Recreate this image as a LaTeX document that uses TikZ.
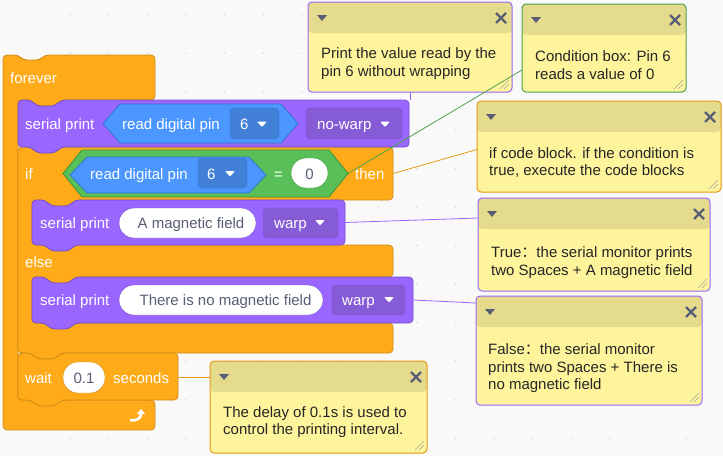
\documentclass[tikz,border=0pt]{standalone}
\usepackage{fontspec}
\setmainfont{Liberation Sans}
\newfontfamily\cjkfont{Noto Sans CJK SC}
\usetikzlibrary{arrows.meta}

\definecolor{bg}{HTML}{F9F9F9}
\definecolor{ctrl}{HTML}{FFAB19}
\definecolor{ctrlline}{HTML}{CF8B17}
\definecolor{looks}{HTML}{9966FF}
\definecolor{looksline}{HTML}{774DCB}
\definecolor{looksfield}{HTML}{855CD6}
\definecolor{sens}{HTML}{4C97FF}
\definecolor{sensline}{HTML}{3373CC}
\definecolor{sensfield}{HTML}{4280D7}
\definecolor{oper}{HTML}{59C059}
\definecolor{operline}{HTML}{389438}
\definecolor{cbody}{HTML}{FEF49C}
\definecolor{chead}{HTML}{E4DB8C}
\definecolor{cicon}{HTML}{575E75}

% stack block with top notch and bottom tab
\newcommand{\stackblk}[5]{%
  \draw[#1, rounded corners=4] (#2,#3) -- (#2+13,#3) -- (#2+19,#3+6) -- (#2+37,#3+6) -- (#2+43,#3)
    -- (#4,#3) -- (#4,#5) -- (#2+43,#5) -- (#2+37,#5+6) -- (#2+19,#5+6) -- (#2+13,#5) -- (#2,#5) -- cycle;}
% hexagon reporter
\newcommand{\hexblk}[6]{%
  \draw[#1] (#2,#3/2+#5/2) -- (#2+#6,#3) -- (#4-#6,#3) -- (#4,#3/2+#5/2) -- (#4-#6,#5) -- (#2+#6,#5) -- cycle;}
% dropdown arrow
\newcommand{\ddtri}[2]{\fill[white, rounded corners=1] (#1,#2) -- ++(10,0) -- ++(-5,5.5) -- cycle;}

\begin{document}
\begin{tikzpicture}[x=1pt, y=-1pt,
  blk/.style={font=\fontsize{15}{18}\selectfont, text=white, inner sep=0, anchor=base west},
  oval/.style={font=\fontsize{15}{18}\selectfont, text=cicon, inner sep=0, anchor=base},
  cmt/.style={rectangle, rounded corners=4, line width=1pt, fill=cbody, inner sep=0, outer sep=0,
    path picture={\fill[chead] (path picture bounding box.north west) rectangle ([yshift=-31pt]path picture bounding box.north east);}},
  ctext/.style={font=\fontsize{15}{17.3}\selectfont, text=black!85, inner sep=0, anchor=base west, align=left},
  link/.style={line width=0.8pt}]

  % Background
  \fill[bg] (0,0) rectangle (723,456);
  \useasboundingbox (0,0) rectangle (723,456);
  \foreach \i in {0,...,19} \foreach \j in {0,...,11}
    \fill[black!12] (-6.5+38.5*\i, 14.5+38.5*\j) circle (1);

  % forever
  \draw[fill=ctrl, draw=ctrlline, line width=0.8, rounded corners=4] (3,55) -- (18,55) -- (23,60) -- (40,60) -- (45,55)
    -- (155,55) -- (155,100) -- (61,100) -- (55,106) -- (37,106) -- (31,100) -- (18,100) -- (18,400)
    -- (155,400) -- (155,430) -- (3,430) -- cycle;

  % if / else
  \draw[fill=ctrl, draw=ctrlline, line width=0.8, rounded corners=4] (18,147) -- (31,147) -- (37,153) -- (55,153) -- (61,147)
    -- (393,147) -- (393,200) -- (75,200) -- (69,206) -- (51,206) -- (45,200) -- (32,200) -- (32,245)
    -- (393,245) -- (393,277) -- (75,277) -- (69,283) -- (51,283) -- (45,277) -- (32,277) -- (32,323)
    -- (393,323) -- (393,353) -- (61,353) -- (55,359) -- (37,359) -- (31,353) -- (18,353) -- cycle;

  % serial print blocks and wait
  \stackblk{fill=looks, draw=looksline, line width=0.8}{18}{100}{409}{147}
  \stackblk{fill=looks, draw=looksline, line width=0.8}{32}{200}{345}{245}
  \stackblk{fill=looks, draw=looksline, line width=0.8}{32}{277}{413}{323}
  \stackblk{fill=ctrl, draw=ctrlline, line width=0.8}{18}{353}{178}{400}

  % inputs
  \hexblk{fill=sens, draw=sensline, line width=0.8}{103}{104}{298}{143}{17}
  \draw[fill=sensfield, draw=sensline, rounded corners=4] (230,108) rectangle (279,139);
  \draw[fill=looksfield, draw=looksline, rounded corners=4] (306,108) rectangle (402,139);
  \hexblk{fill=oper, draw=operline, line width=0.8}{63}{150}{348}{197}{19}
  \hexblk{fill=sens, draw=sensline, line width=0.8}{70}{157}{266}{193}{17}
  \draw[fill=sensfield, draw=sensline, rounded corners=4] (198,158) rectangle (247,188);
  \draw[fill=white, draw=operline, rounded corners=15] (291,158) rectangle (328,188);
  \draw[fill=white, draw=looksline, rounded corners=15] (119,208) rectangle (256,238);
  \draw[fill=looksfield, draw=looksline, rounded corners=4] (263,208) rectangle (338,238);
  \draw[fill=white, draw=looksline, rounded corners=15] (119,285) rectangle (323,315);
  \draw[fill=looksfield, draw=looksline, rounded corners=4] (332,285) rectangle (405,315);
  \draw[fill=white, draw=ctrlline, rounded corners=15] (63,362) rectangle (105,393);
  \ddtri{257}{121.5}
  \ddtri{380}{121.5}
  \ddtri{225}{171}
  \ddtri{315}{220}
  \ddtri{384}{297}
  \draw[white, line width=2.6, -{Triangle[length=5pt,width=8pt]}] (130,420) .. controls (137,421.5) and (141,418) .. (141,409);

  % block texts
  \node[blk] (tforever) at (10,83) {forever};
  \node[blk] (tsp1) at (25,129.5) {serial print};
  \node[blk] (trd1) at (122,129.5) {read digital pin};
  \node[blk] (tpin1) at (240,129.5) {6};
  \node[blk] (tnw) at (317,129.5) {no-warp};
  \node[blk] (tif) at (25,179) {if};
  \node[blk] (trd2) at (90,179) {read digital pin};
  \node[blk] (tpin2) at (207,179) {6};
  \node[blk] (teq) at (274,179) {=};
  \node[oval] (tzero) at (309.5,179) {0};
  \node[blk] (tthen) at (355,179) {then};
  \node[blk] (tsp2) at (40,228) {serial print};
  \node[oval] (tmag) at (191,228) {A magnetic field};
  \node[blk] (tw1) at (274,228) {warp};
  \node[blk] (telse) at (25,267) {else};
  \node[blk] (tsp3) at (40,305) {serial print};
  \node[oval] (tnomag) at (225.5,305) {There is no magnetic field};
  \node[blk] (tw2) at (342,305) {warp};
  \node[blk] (twait) at (25,383) {wait};
  \node[oval] (tdelay) at (84,383) {0.1};
  \node[blk] (tsec) at (113,383) {seconds};

  % attach points
  \coordinate (sp1) at (409,100);
  \coordinate (ghex) at (348,173.5);
  \coordinate (ifr) at (393,173.5);
  \coordinate (sp2r) at (345,222.5);
  \coordinate (sp3r) at (413,300);
  \coordinate (waitr) at (178,377);

  % comments
  \node[cmt, draw=looks, minimum width=204, minimum height=90] (c1) at (410,47) {};
  \node[cmt, draw=oper!85!black, minimum width=164, minimum height=88] (c2) at (604,48) {};
  \node[cmt, draw=ctrl!90!black, minimum width=244, minimum height=91] (c3) at (599,146.5) {};
  \node[cmt, draw=looks, minimum width=232, minimum height=93] (c4) at (594,244.5) {};
  \node[cmt, draw=looks, minimum width=226, minimum height=109] (c5) at (589,350.5) {};
  \node[cmt, draw=ctrl!90!black, minimum width=217, minimum height=92] (c6) at (318.5,407) {};
  \foreach \cm in {c1,c2,c3,c4,c5,c6} {
    \fill[cicon] ([xshift=9pt,yshift=-13pt]\cm.north west) -- ++(10,0) -- ++(-5,6) -- cycle;
    \draw[cicon, line width=2.4] ([xshift=-16pt,yshift=-11pt]\cm.north east) -- ++(10,10)
      ([xshift=-6pt,yshift=-11pt]\cm.north east) -- ++(-10,10);
    \draw[black!35, line width=0.6] ([xshift=-12pt,yshift=3pt]\cm.south east) -- ([xshift=-3pt,yshift=12pt]\cm.south east)
      ([xshift=-8pt,yshift=3pt]\cm.south east) -- ([xshift=-3pt,yshift=8pt]\cm.south east);
  }

  % connectors
  \draw[link, draw=looks] (c1.south) -- (c1.south |- sp1);
  \draw[link, draw=oper!85!black] (ghex) -- ([yshift=-22pt]c2.west);
  \draw[link, draw=ctrl!90!black] (ifr) -- ([yshift=-3pt]c3.west);
  \draw[link, draw=looks] (sp2r) -- ([yshift=26.5pt]c4.west);
  \draw[link, draw=looks] (sp3r) -- ([yshift=47.5pt]c5.west);
  \draw[link, draw=ctrl!90!black] (waitr) -- ([yshift=30pt]c6.west);

  % comment texts (base = last line)
  \node[ctext] (t1) at (321,76) {Print the value read by the\\pin 6 without wrapping};
  \node[ctext] (t2) at (535,79) {Condition box: Pin 6\\reads a value of 0};
  \node[ctext] (t3) at (489,175.7) {if code block. if the condition is\\true, execute the code blocks};
  \node[ctext] (t4) at (491,275) {True{\cjkfont ：}the serial monitor prints\\two Spaces + A magnetic field};
  \node[ctext] (t5) at (488,389.3) {False{\cjkfont ：}the serial monitor\\prints two Spaces + There is\\no magnetic field};
  \node[ctext] (t6) at (223,434.3) {The delay of 0.1s is used to\\control the printing interval.};
\end{tikzpicture}
\end{document}
